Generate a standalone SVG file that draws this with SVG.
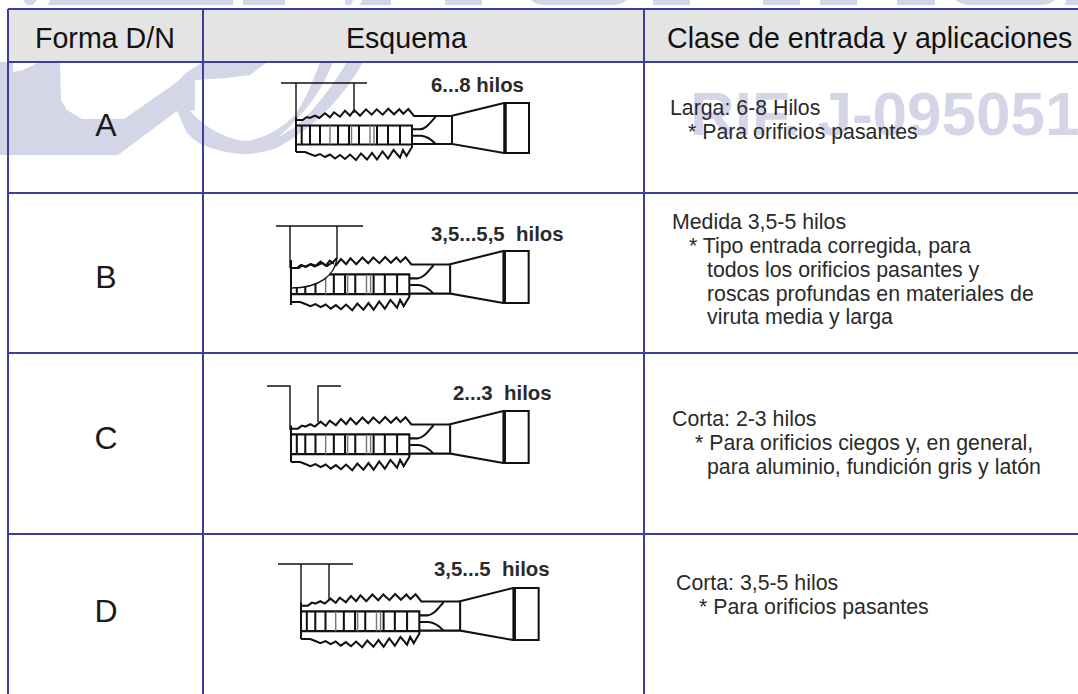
<svg xmlns="http://www.w3.org/2000/svg" width="1078" height="694" viewBox="0 0 1078 694">
<defs>
<style>
text{font-family:"Liberation Sans",Arial,sans-serif;fill:#1a1a1a;white-space:pre}
.h{font-size:28.6px;fill:#111}
.l{font-size:32px;text-anchor:middle}
.b{font-size:21.3px;fill:#2a2a2a}
.n{font-size:20.4px;font-weight:bold;fill:#2a2a2a}
.g{fill:none;stroke-width:2;stroke:#3b3f9c}
.wm{fill:#d4d6e8}
.t{fill:none;stroke:#111;stroke-width:2;stroke-linejoin:miter}
.f{fill:none;stroke:#111;stroke-width:1.4}
.k{fill:none;stroke:#111;stroke-width:3.5}
.v{stroke:#111;stroke-width:2}
.v2{stroke:#777;stroke-width:1.4}
</style>
<g id="tap">
<path class="t" d="M0 49V14M0 17H6.700L10.700 14L14 15L19 12.700L23.300 15L29 10.300L34 14.300L38 9.300L44 13.700L49 7.700L54 12.700L58.300 7L64 12.700L70 6.300L75.700 11.700L80.700 6.300L86.700 11.700L92.300 5.700L98 11.300L103.300 6.300L107.300 10.700L112.300 6L118 13H156"/>
<path class="t" d="M156 12.700L208 0H233V50H208L156 41ZM116 41H156"/>
<path class="k" d="M209 0V50"/>
<path class="t" stroke-width="2.400" d="M0 22.500H116V41.500H0"/>
<path class="t" d="M116 26.300H124C130 26 134 20 139.700 13.700M116 32.700H125C131 33 135 36 139.700 41"/>
<path class="t" d="M0 49H9L14 51L19 53L24 51L29 54L34 51.500L39 55.500L44 52L49 56L54 51.500L60 57L65 50.500L71 56.500L76 50L81 56.500L86.500 48.500L92 55.500L97.500 47L104 54.500L107 47L110.500 53L116 44V41.500"/>
<path class="v" d="M5.700 22.500V41.500M14 22.500V41.500M24 22.500V41.500M42 22.500V41.500M53 22.500V41.500M63 22.500V41.500M81 22.500V41.500M92 22.500V41.500M104 22.500V41.500"/>
<path class="v2" d="M34 22.500V41.500M74 22.500V41.500M78 22.500V41.500M55.500 22.500V41.500"/>
</g>
</defs>
<rect width="1078" height="694" fill="#fff"/>
<g id="watermark">
<path class="wm" d="M23 0H37L33 5H27ZM50 0H233V5H48ZM243 0H285V5H243ZM345 0H353L351 5H345ZM362 0H391V5H360ZM445 0H482V5H445ZM531 0H627C622 4 618 5 612 5H546C540 5 535 4 531 0ZM653 0H690V5H653ZM763 0H800V5H763ZM820 0H857V5H820ZM897 0H935V5H897ZM956 0H1055C1050 4 1045 5 1040 5H972C966 5 960 4 956 0ZM1066 0H1078V5H1065Z"/>
<path class="wm" d="M0 62H13V72L23 70L40 62H60L61 100L67 110L82 119H124L177 82L187 72L203 62H267L250 75L227 78L195 80V110L190 111C205 128 225 138 243 141C262 140 280 130 295 115C305 100 313 82 320 62H333C322 90 305 115 277 138L295 127C315 110 333 85 347 62H363C345 95 320 120 295 137L277 148C265 152 255 154 243 154C228 153 215 150 203 145C196 142 192 138 187 133L177 111L118 155H0Z"/>
<text x="690" y="135" style="font-size:62px;font-weight:bold;fill:#d4d6e8">RIF. J-095051</text>
</g>
<rect x="8" y="9" width="1070" height="53" fill="#e4e4e4"/>
<g id="table">
<path class="g" d="M8 9H1078M8 62H1078M8 193H1078M8 353H1078M8 534H1078M8 9V694M203 9V694M644 9V694"/>
</g>
<g id="header">
<text class="h" x="35" y="48">Forma D/N</text>
<text class="h" x="346" y="48">Esquema</text>
<text class="h" x="667" y="48">Clase de entrada y aplicaciones</text>
</g>
<g id="row-a">
<text class="l" x="106" y="136">A</text>
<use href="#tap" transform="translate(296 103)"/>
<path class="f" d="M281 83H367M296 83V128M354 83V113"/>
<text class="n" x="431" y="92">6...8 hilos</text>
<text class="b" x="670" y="114.500">Larga: 6-8 Hilos</text>
<text class="b" x="688" y="138.500">* Para orificios pasantes</text>
</g>
<g id="row-b">
<text class="l" x="106" y="288">B</text>
<use href="#tap" transform="translate(291 251) scale(1.02 1.04)"/>
<path fill="#fff" d="M292 269H300L333 266L337 258C335 275 320 288 292 288Z"/>
<path class="t" d="M291 268H297L301 265L306 267L311 264L316 266L322 263L327 266L333 262L337 258"/>
<path class="f" d="M276 226H363M290 226V268M337 226V258C335 275 320 288 291 288"/>
<path class="t" d="M291 260V305"/>
<text class="n" x="431" y="241">3,5...5,5  hilos</text>
<text class="b" x="672" y="228.500">Medida 3,5-5 hilos</text>
<text class="b" x="689" y="252.500">* Tipo entrada corregida, para</text>
<text class="b" x="707" y="276.500">todos los orificios pasantes y</text>
<text class="b" x="707" y="300.500">roscas profundas en materiales de</text>
<text class="b" x="707" y="323.500">viruta media y larga</text>
</g>
<g id="row-c">
<text class="l" x="106" y="449">C</text>
<use href="#tap" transform="translate(291 411) scale(1.02 1.04)"/>
<path class="f" d="M267 386H290V430M341 386H318V422"/>
<text class="n" x="453" y="400">2...3  hilos</text>
<text class="b" x="672" y="425.500">Corta: 2-3 hilos</text>
<text class="b" x="695" y="449.500">* Para orificios ciegos y, en general,</text>
<text class="b" x="707" y="473.500">para aluminio, fundición gris y latón</text>
</g>
<g id="row-d">
<text class="l" x="106" y="622">D</text>
<use href="#tap" transform="translate(301 588) scale(1.02 1.04)"/>
<path class="f" d="M278 564H353M301 564V606M329 564V600"/>
<text class="n" x="434" y="576">3,5...5  hilos</text>
<text class="b" x="676" y="589.500">Corta: 3,5-5 hilos</text>
<text class="b" x="699" y="613.500">* Para orificios pasantes</text>
</g>
</svg>
